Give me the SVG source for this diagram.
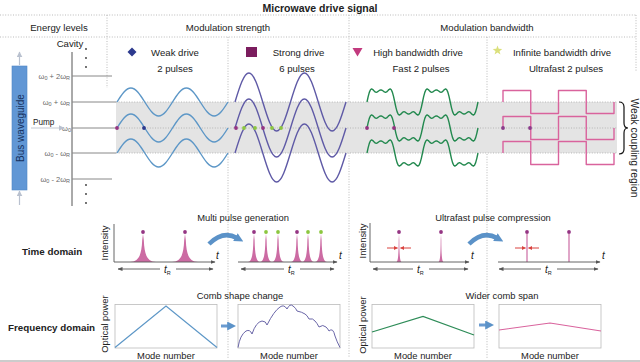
<svg xmlns="http://www.w3.org/2000/svg" width="640" height="362" viewBox="0 0 640 362">
<style>
text{font-family:"Liberation Sans",Arial,Helvetica,sans-serif;fill:#222}
.ttl{font-size:10.5px;font-weight:bold;text-anchor:middle}
.hd{font-size:9.6px;text-anchor:middle}
.lb{font-size:9.4px;text-anchor:middle}
.row{font-size:9.8px;font-weight:bold}
.lv{font-size:7.5px;fill:#666;text-anchor:end}
.sub{font-size:5.5px}
.it{font-style:italic;font-size:10px}
.grid{stroke:#aaa;stroke-width:0.8;stroke-dasharray:1 1.6;fill:none}
.lvl{stroke:#888;stroke-width:1}
.wave{fill:none;stroke-width:1.4;stroke-linejoin:round}
.blue{stroke:#5d97c7}
.purp{stroke:#5f5aa6}
.grn{stroke:#23894f}
.pnk{stroke:#d9639d}
.ax{stroke:#555;stroke-width:0.9;fill:none}
.pulse{fill:#cc6ba3}
.dm{fill:#943483}
.dg{fill:#8cc63f}
.box{fill:none;stroke:#bbb;stroke-width:0.8}
.red{stroke:#d9433f;stroke-width:1;fill:none}
</style>
<defs>
<marker id="ah" viewBox="0 0 10 10" refX="9" refY="5" markerWidth="5" markerHeight="5" markerUnits="userSpaceOnUse" orient="auto"><path d="M0,1 L10,5 L0,9 z" fill="#555"/></marker>
<marker id="rh" viewBox="0 0 10 10" refX="9" refY="5" markerWidth="4" markerHeight="4" markerUnits="userSpaceOnUse" orient="auto"><path d="M0,0 L10,5 L0,10 z" fill="#d9433f"/></marker>
<marker id="gh" viewBox="0 0 10 10" refX="9" refY="5" markerWidth="6" markerHeight="6" markerUnits="userSpaceOnUse" orient="auto"><path d="M0,0 L10,5 L0,10 z" fill="#b9c1cf"/></marker>
<marker id="bh" viewBox="0 0 10 10" refX="2" refY="5" markerWidth="9" markerHeight="9" markerUnits="userSpaceOnUse" orient="auto"><path d="M0,0 L10,5 L0,10 z" fill="#5b92c8"/></marker>
<path id="sw" d="M0,0 c4.64,-7.35 8.91,-14 13.875,-14 s9.24,6.65 13.875,14 s8.91,14 13.875,14 s9.24,-6.65 13.875,-14 s8.91,-14 13.875,-14 s9.24,6.65 13.875,14 s8.91,14 13.875,14 s9.24,-6.65 13.875,-14"/>
<path id="ss" d="M0,0 c4.64,-15.23 8.91,-29 13.875,-29 s9.24,13.78 13.875,29 s8.91,29 13.875,29 s9.24,-13.78 13.875,-29 s8.91,-29 13.875,-29 s9.24,13.78 13.875,29 s8.91,29 13.875,29 s9.24,-13.78 13.875,-29"/>
<path id="gw" d="M0,0 l1.156,-5.32 1.156,-4.31 1.156,-2.63 1.156,-0.81 1.156,0.6 1.156,1.25 1.156,1.1 1.156,0.42 1.156,-0.38 1.156,-0.87 1.156,-0.84 1.156,-0.34 1.156,0.34 1.156,0.84 1.156,0.87 1.156,0.38 1.156,-0.42 1.156,-1.1 1.156,-1.25 1.156,-0.6 1.156,0.81 1.156,2.63 1.156,4.31 1.156,5.32 1.156,5.32 1.156,4.31 1.156,2.63 1.156,0.81 1.156,-0.6 1.156,-1.25 1.156,-1.1 1.156,-0.42 1.156,0.38 1.156,0.87 1.156,0.84 1.156,0.34 1.156,-0.34 1.156,-0.84 1.156,-0.87 1.156,-0.38 1.156,0.42 1.156,1.1 1.156,1.25 1.156,0.6 1.156,-0.81 1.156,-2.63 1.156,-4.31 1.156,-5.32 1.156,-5.32 1.156,-4.31 1.156,-2.63 1.156,-0.81 1.156,0.6 1.156,1.25 1.156,1.1 1.156,0.42 1.156,-0.38 1.156,-0.87 1.156,-0.84 1.156,-0.34 1.156,0.34 1.156,0.84 1.156,0.87 1.156,0.38 1.156,-0.42 1.156,-1.1 1.156,-1.25 1.156,-0.6 1.156,0.81 1.156,2.63 1.156,4.31 1.156,5.32 1.156,5.32 1.156,4.31 1.156,2.63 1.156,0.81 1.156,-0.6 1.156,-1.25 1.156,-1.1 1.156,-0.42 1.156,0.38 1.156,0.87 1.156,0.84 1.156,0.34 1.156,-0.34 1.156,-0.84 1.156,-0.87 1.156,-0.38 1.156,0.42 1.156,1.1 1.156,1.25 1.156,0.6 1.156,-0.81 1.156,-2.63 1.156,-4.31 1.156,-5.32"/>
<path id="pw" d="M0,0 V-11.5 H27.75 V11.5 H55.5 V-11.5 H83.25 V11.5 H111 V0"/>
</defs>

<g id="frame">
<line class="grid" x1="0" y1="15" x2="636" y2="15"/>
<line class="grid" x1="0" y1="37" x2="636" y2="37"/>
<line class="grid" x1="107" y1="15" x2="107" y2="88"/>
<line class="grid" x1="228" y1="37" x2="228" y2="358"/>
<line class="grid" x1="349" y1="15" x2="349" y2="358"/>
<line class="grid" x1="487" y1="37" x2="487" y2="358"/>
<line class="grid" x1="636" y1="15" x2="636" y2="72"/>
<line x1="0" y1="361" x2="640" y2="361" stroke="#999" stroke-width="1"/>
<text class="ttl" x="320" y="11.5">Microwave drive signal</text>
<text class="hd" x="59" y="30.5">Energy levels</text>
<text class="hd" x="228" y="30.5">Modulation strength</text>
<text class="hd" x="487" y="30.5">Modulation bandwidth</text>
</g>

<g id="band">
<rect x="116" y="102" width="501" height="51" fill="#e4e4e4"/>
<line class="grid" x1="116" y1="102" x2="617" y2="102"/>
<line class="grid" x1="116" y1="153" x2="617" y2="153"/>
<line class="grid" x1="116" y1="128" x2="617" y2="128"/>
<path d="M619,102 q5,0 5,5 v16 q0,5 4,5 q-4,0 -4,5 v16 q0,5 -5,5" fill="none" stroke="#111" stroke-width="1.2"/>
<text x="631" y="148" font-size="10.3" text-anchor="middle" transform="rotate(90 631 148)">Weak coupling region</text>
</g>

<g id="bus-waveguide">
<rect x="12" y="66" width="15" height="124" fill="#6197d5" stroke="#4f86c6" stroke-width="0.6"/>
<text x="23.5" y="128" font-size="10" text-anchor="middle" transform="rotate(-90 23.5 128)" style="fill:#17325e">Bus waveguide</text>
</g>

<g id="energy-levels">
<text x="70" y="47" font-size="9.6" text-anchor="middle">Cavity</text>
<line x1="72" y1="52" x2="72" y2="206" stroke="#555" stroke-width="1"/>
<g fill="#333"><circle cx="86" cy="49" r="0.9"/><circle cx="86" cy="58" r="0.9"/><circle cx="86" cy="67" r="0.9"/><circle cx="86" cy="185" r="0.9"/><circle cx="86" cy="194" r="0.9"/><circle cx="86" cy="203" r="0.9"/></g>
<line class="lvl" x1="72" y1="76" x2="112" y2="76"/>
<line class="lvl" x1="72" y1="102" x2="116" y2="102"/>
<line class="lvl" x1="72" y1="128" x2="116" y2="128"/>
<line class="lvl" x1="72" y1="153" x2="116" y2="153"/>
<line class="lvl" x1="72" y1="179" x2="112" y2="179"/>
<text class="lv" x="70" y="78.5">ω<tspan class="sub" dy="1.5">0</tspan><tspan dy="-1.5"> + 2ω</tspan><tspan class="sub" dy="1.5">R</tspan></text>
<text class="lv" x="70" y="104.5">ω<tspan class="sub" dy="1.5">0</tspan><tspan dy="-1.5"> + ω</tspan><tspan class="sub" dy="1.5">R</tspan></text>
<text class="lv" x="71" y="130.5">ω<tspan class="sub" dy="1.5">0</tspan></text>
<text class="lv" x="70" y="155.5">ω<tspan class="sub" dy="1.5">0</tspan><tspan dy="-1.5"> - ω</tspan><tspan class="sub" dy="1.5">R</tspan></text>
<text class="lv" x="70" y="181.5">ω<tspan class="sub" dy="1.5">0</tspan><tspan dy="-1.5"> - 2ω</tspan><tspan class="sub" dy="1.5">R</tspan></text>
<text x="33" y="125" font-size="8.2" fill="#444">Pump</text>
</g>

<g id="weak-drive">
<polygon points="132,47.5 136.5,52 132,56.5 127.5,52" fill="#2d3a8e"/>
<text class="hd" x="175" y="55.5">Weak drive</text>
<text class="hd" x="175" y="72">2 pulses</text>
<use href="#sw" x="117" y="102" class="wave blue"/>
<use href="#sw" x="117" y="128" class="wave blue"/>
<use href="#sw" x="117" y="153" class="wave blue"/>
<circle cx="117" cy="128" r="1.9" class="dm"/>
<circle cx="144" cy="128" r="1.9" fill="#2d3a8e"/>
</g>

<g id="strong-drive">
<rect x="246" y="47" width="11" height="10" fill="#7b1d5e"/>
<text class="hd" x="298.5" y="55.5">Strong drive</text>
<text class="hd" x="297" y="72">6 pulses</text>
<use href="#ss" x="235" y="102" class="wave purp"/>
<use href="#ss" x="235" y="128" class="wave purp"/>
<use href="#ss" x="235" y="153" class="wave purp"/>
<circle cx="236" cy="128" r="1.9" class="dm"/>
<circle cx="244" cy="128" r="1.9" class="dg"/>
<circle cx="255" cy="128" r="1.9" class="dg"/>
<circle cx="263" cy="128" r="1.9" class="dm"/>
<circle cx="272" cy="128" r="1.9" class="dg"/>
<circle cx="281" cy="128" r="1.9" class="dg"/>
</g>

<g id="high-bandwidth-drive">
<polygon points="352.5,48 362.5,48 357.5,56.5" fill="#c23a7e"/>
<text class="hd" x="418" y="55.5">High bandwidth drive</text>
<text class="hd" x="421" y="72">Fast 2 pulses</text>
<use href="#gw" x="367" y="102" class="wave grn"/>
<use href="#gw" x="367" y="128" class="wave grn"/>
<use href="#gw" x="367" y="153" class="wave grn"/>
<circle cx="367" cy="128" r="1.9" class="dm"/>
<circle cx="394" cy="128" r="1.9" class="dm"/>
</g>

<g id="infinite-bandwidth-drive">
<polygon points="497.5,45.5 498.73,48.8 502.26,48.95 499.5,51.15 500.44,54.55 497.5,52.6 494.56,54.55 495.5,51.15 492.74,48.95 496.27,48.8" fill="#dbe07c"/>
<text class="hd" x="562" y="55.5">Infinite bandwidth drive</text>
<text class="hd" x="566" y="72">Ultrafast 2 pulses</text>
<use href="#pw" x="503" y="102" class="wave pnk"/>
<use href="#pw" x="503" y="128" class="wave pnk"/>
<use href="#pw" x="503" y="153" class="wave pnk"/>
<circle cx="503" cy="128" r="1.9" fill="#8a3a8a"/>
<circle cx="530" cy="128" r="1.9" fill="#8a3a8a"/>
</g>

<g id="time-domain">
<text class="row" x="22" y="255">Time domain</text>
<text class="lb" x="243" y="221">Multi pulse generation</text>
<text class="lb" x="493" y="221">Ultrafast pulse compression</text>
<text x="108" y="243" font-size="9.4" text-anchor="middle" transform="rotate(-90 108 243)">Intensity</text>
<text x="366" y="241" font-size="9.4" text-anchor="middle" transform="rotate(-90 366 241)">Intensity</text>
</g>

<g id="time-plot-1">
<path class="pulse" d="M130,262 C138.5,261.5 141.5,256 142.2,240 L143,234 L143.8,240 C144.5,256 147.5,261.5 156,262 Z"/>
<path class="pulse" d="M172,262 C180.5,261.5 183.5,256 184.2,240 L185,234 L185.8,240 C186.5,256 189.5,261.5 198,262 Z"/>
<line class="ax" x1="114" y1="224" x2="114" y2="262"/>
<line class="ax" x1="114" y1="262" x2="215" y2="262" marker-end="url(#ah)"/>
<circle cx="143" cy="232" r="1.9" class="dm"/>
<circle cx="185" cy="232" r="1.9" class="dm"/>
<text class="it" x="216" y="259">t</text>
<text class="it" x="164" y="273">t<tspan class="sub" dy="2" style="font-style:normal">R</tspan></text>
</g>

<g id="time-plot-2">
<path class="pulse" d="M248,262 C251.5,261.5 253,256 253.4,240 L254,234 L254.6,240 C255,256 256.5,261.5 260,262 Z"/>
<path class="pulse" d="M260,262 C263.5,261.5 265,256 265.4,240 L266,234 L266.6,240 C267,256 268.5,261.5 272,262 Z"/>
<path class="pulse" d="M272,262 C275.5,261.5 277,256 277.4,240 L278,234 L278.6,240 C279,256 280.5,261.5 284,262 Z"/>
<path class="pulse" d="M291,262 C294.5,261.5 296,256 296.4,240 L297,234 L297.6,240 C298,256 299.5,261.5 303,262 Z"/>
<path class="pulse" d="M302,262 C305.5,261.5 307,256 307.4,240 L308,234 L308.6,240 C309,256 310.5,261.5 314,262 Z"/>
<path class="pulse" d="M315,262 C318.5,261.5 320,256 320.4,240 L321,234 L321.6,240 C322,256 323.5,261.5 327,262 Z"/>
<line class="ax" x1="238" y1="262" x2="337" y2="262" marker-end="url(#ah)"/>
<circle cx="254" cy="232" r="1.9" class="dm"/>
<circle cx="266" cy="232" r="1.9" class="dg"/>
<circle cx="278" cy="232" r="1.9" class="dg"/>
<circle cx="297" cy="232" r="1.9" class="dm"/>
<circle cx="308" cy="232" r="1.9" class="dg"/>
<circle cx="321" cy="232" r="1.9" class="dg"/>
<text class="it" x="339" y="259">t</text>
<text class="it" x="288" y="273">t<tspan class="sub" dy="2" style="font-style:normal">R</tspan></text>
</g>

<g id="time-plot-3">
<path class="pulse" d="M396.5,262 C398,261.5 398.6,255 398.7,240 L399,234 L399.3,240 C399.4,255 400,261.5 401.5,262 Z"/>
<path class="pulse" d="M438.5,262 C440,261.5 440.6,255 440.7,240 L441,234 L441.3,240 C441.4,255 442,261.5 443.5,262 Z"/>
<line class="ax" x1="370" y1="223" x2="370" y2="262"/>
<line class="ax" x1="370" y1="262" x2="469" y2="262" marker-end="url(#ah)"/>
<circle cx="399" cy="232" r="1.9" class="dm"/>
<circle cx="441" cy="232" r="1.9" class="dm"/>
<text class="it" x="471" y="259">t</text>
<text class="it" x="417" y="273">t<tspan class="sub" dy="2" style="font-style:normal">R</tspan></text>
</g>

<g id="time-plot-4">
<line x1="527" y1="262" x2="527" y2="234" stroke="#cc6ba3" stroke-width="1.2"/>
<line x1="569" y1="262" x2="569" y2="234" stroke="#cc6ba3" stroke-width="1.2"/>
<line class="ax" x1="498" y1="262" x2="600" y2="262" marker-end="url(#ah)"/>
<circle cx="527" cy="232" r="1.9" class="dm"/>
<circle cx="569" cy="232" r="1.9" class="dm"/>
<text class="it" x="602" y="259">t</text>
<text class="it" x="545" y="273">t<tspan class="sub" dy="2" style="font-style:normal">R</tspan></text>
</g>

<g id="frequency-domain">
<text class="row" x="8" y="331">Frequency domain</text>
<text class="lb" x="240" y="299">Comb shape change</text>
<text class="lb" x="502" y="299">Wider comb span</text>
<text x="108" y="324" font-size="9.4" text-anchor="middle" transform="rotate(-90 108 324)">Optical power</text>
<text x="366" y="325" font-size="9.4" text-anchor="middle" transform="rotate(-90 366 325)">Optical power</text>
</g>

<g id="freq-plot-1">
<rect class="box" x="115" y="304.5" width="102" height="43.5"/>
<polyline points="115,347.5 166,306 217,347.5" fill="none" stroke="#5d97c7" stroke-width="1.2"/>
<text class="lb" x="166" y="359">Mode number</text>
</g>

<g id="freq-plot-2">
<rect class="box" x="238" y="304.5" width="102" height="43.5"/>
<path d="M238,347.5 Q240,335 246,331 Q250,329 252,334 Q256,322 262,321 Q266,321 267,325 Q274,311 280,307 Q284,304 287,309 Q290,303 293,306 Q296,308 297,311 Q302,312 305,314 Q307,315 309,319 Q313,318 315,321 Q317,323 319,327 Q323,324 326,327 Q328,329 329,331 Q333,327 335,336 Q337,342 340,347.5" fill="none" stroke="#6a66a8" stroke-width="1"/>
<text class="lb" x="289" y="359">Mode number</text>
</g>

<g id="freq-plot-3">
<rect class="box" x="372" y="304.5" width="102" height="43.5"/>
<polyline points="372,332 423,316.5 474,335" fill="none" stroke="#2e8c58" stroke-width="1.2"/>
<text class="lb" x="423" y="359">Mode number</text>
</g>

<g id="freq-plot-4">
<rect class="box" x="499" y="304.5" width="102" height="43.5"/>
<polyline points="499,330 550,323 601,331" fill="none" stroke="#d9639d" stroke-width="1.1"/>
<text class="lb" x="550" y="359">Mode number</text>
</g>

<g id="connectors">
<line x1="19.5" y1="65" x2="19.5" y2="52" stroke="#b9c1cf" stroke-width="1.2" marker-end="url(#gh)"/>
<line x1="19.5" y1="205" x2="19.5" y2="191" stroke="#b9c1cf" stroke-width="1.2" marker-end="url(#gh)"/>
<line x1="31" y1="128" x2="64" y2="128" stroke="#c4c9d2" stroke-width="1" marker-end="url(#gh)"/>
<path d="M209,244 Q223,230 237,238" fill="none" stroke="#5b92c8" stroke-width="4.5" marker-end="url(#bh)"/>
<path d="M469,244 Q483,230 497,238" fill="none" stroke="#5b92c8" stroke-width="4.5" marker-end="url(#bh)"/>
<line x1="221" y1="326" x2="229" y2="326" stroke="#6a9bd0" stroke-width="3" marker-end="url(#bh)"/>
<line x1="479" y1="325" x2="487" y2="325" stroke="#6a9bd0" stroke-width="3" marker-end="url(#bh)"/>
<line class="ax" x1="160" y1="269" x2="118" y2="269" marker-end="url(#ah)"/>
<line class="ax" x1="176" y1="269" x2="213" y2="269" marker-end="url(#ah)"/>
<line class="ax" x1="284" y1="269" x2="241" y2="269" marker-end="url(#ah)"/>
<line class="ax" x1="300" y1="269" x2="334" y2="269" marker-end="url(#ah)"/>
<line class="ax" x1="413" y1="269" x2="373" y2="269" marker-end="url(#ah)"/>
<line class="ax" x1="429" y1="269" x2="468" y2="269" marker-end="url(#ah)"/>
<line class="ax" x1="541" y1="269" x2="499" y2="269" marker-end="url(#ah)"/>
<line class="ax" x1="557" y1="269" x2="598" y2="269" marker-end="url(#ah)"/>
<line class="red" x1="387" y1="248" x2="397.5" y2="248" marker-end="url(#rh)"/>
<line class="red" x1="411" y1="248" x2="400.5" y2="248" marker-end="url(#rh)"/>
<line class="red" x1="515" y1="248" x2="525.5" y2="248" marker-end="url(#rh)"/>
<line class="red" x1="539" y1="248" x2="528.5" y2="248" marker-end="url(#rh)"/>
</g>
</svg>
